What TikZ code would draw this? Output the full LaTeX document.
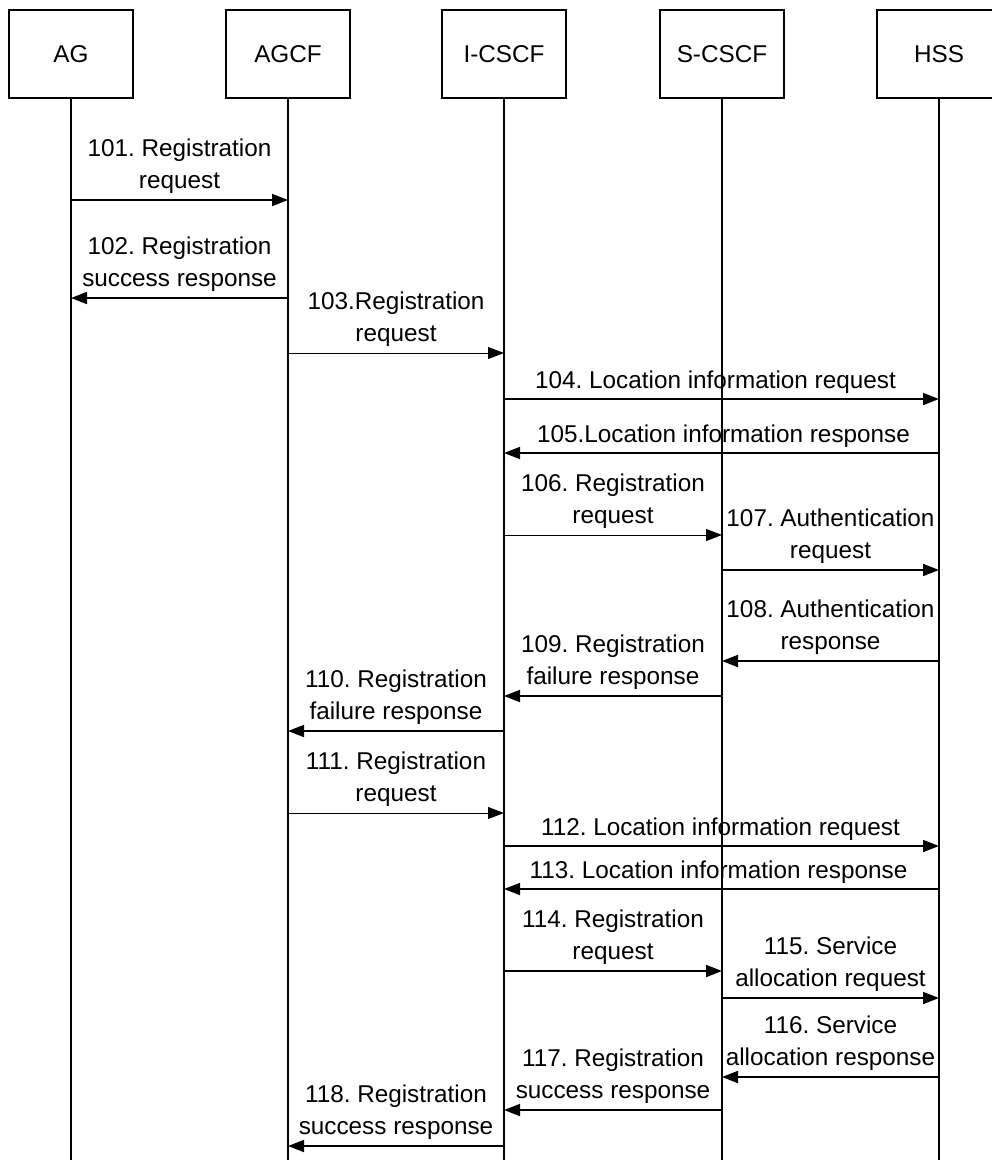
\documentclass[tikz,border=0pt]{standalone}
\usepackage{fontspec}
\setmainfont{Liberation Sans}
\usetikzlibrary{arrows.meta}
\frenchspacing
\tikzset{
  actor/.style={draw, line width=1.6pt, minimum width=124pt, minimum height=88pt, inner sep=0pt, font=\fontsize{24.3}{29}\selectfont},
  life/.style={line width=1.5pt},
  msgthick/.style={line width=1.7pt, -{Triangle[length=16pt,width=12pt]}},
  msgthin/.style={line width=1.0pt, -{Triangle[length=16pt,width=12pt]}},
  lbl/.style={anchor=base, inner sep=0pt, font=\fontsize{24.3}{29}\selectfont}
}
\newcommand{\xAG}{71}
\newcommand{\xAGCF}{288}
\newcommand{\xIC}{504}
\newcommand{\xSC}{722}
\newcommand{\xHSS}{939}
% two-line message: name, from x, to x, y, line1, line2, style
\newcommand{\msgtwo}[7]{%
  \coordinate (#1s) at (#2,-#4);
  \coordinate (#1e) at (#3,-#4);
  \draw[#7] (#1s) -- (#1e);
  \node[lbl] (#1a) at ({(#2+#3)/2},{-#4+44}) {#5};
  \node[lbl] (#1b) at ({(#2+#3)/2},{-#4+12}) {#6};
}
% one-line message: name, from x, to x, y, text, style, x offset of label
\newcommand{\msgone}[7]{%
  \coordinate (#1s) at (#2,-#4);
  \coordinate (#1e) at (#3,-#4);
  \draw[#6] (#1s) -- (#1e);
  \node[lbl] (#1a) at ({(#2+#3)/2+#7},{-#4+11}) {#5};
}
\begin{document}
\begin{tikzpicture}[x=1pt,y=1pt]
\clip (0,0) rectangle (992,-1160);
\fill[white] (0,0) rectangle (992,-1160);
% actors
\node[actor] (ag)    at (\xAG,-54)   {AG};
\node[actor] (agcf)  at (\xAGCF,-54) {AGCF};
\node[actor] (icscf) at (\xIC,-54)   {I-CSCF};
\node[actor] (scscf) at (\xSC,-54)   {S-CSCF};
\node[actor] (hss)   at (\xHSS,-54)  {HSS};
% lifeline ends
\coordinate (agend)    at (\xAG,-1162);
\coordinate (agcfend)  at (\xAGCF,-1162);
\coordinate (icscfend) at (\xIC,-1162);
\coordinate (scscfend) at (\xSC,-1162);
\coordinate (hssend)   at (\xHSS,-1162);
\draw[life] (ag) -- (agend);
\draw[life] (agcf) -- (agcfend);
\draw[life] (icscf) -- (icscfend);
\draw[life] (scscf) -- (scscfend);
\draw[life] (hss) -- (hssend);
% messages
\msgtwo{m101}{\xAG}{\xAGCF}{200}{101. Registration}{request}{msgthick}
\msgtwo{m102}{\xAGCF}{\xAG}{298}{102. Registration}{success response}{msgthick}
\msgtwo{m103}{\xAGCF}{\xIC}{353}{103.Registration}{request}{msgthin}
\msgone{m104}{\xIC}{\xHSS}{399}{104. Location information request}{msgthick}{-6}
\msgone{m105}{\xHSS}{\xIC}{453}{105.Location information response}{msgthick}{2}
\msgtwo{m106}{\xIC}{\xSC}{535}{106. Registration}{request}{msgthin}
\msgtwo{m107}{\xSC}{\xHSS}{570}{107. Authentication}{request}{msgthick}
\msgtwo{m108}{\xHSS}{\xSC}{661}{108. Authentication}{response}{msgthick}
\msgtwo{m109}{\xSC}{\xIC}{696}{109. Registration}{failure response}{msgthick}
\msgtwo{m110}{\xIC}{\xAGCF}{731}{110. Registration}{failure response}{msgthick}
\msgtwo{m111}{\xAGCF}{\xIC}{813}{111. Registration}{request}{msgthin}
\msgone{m112}{\xIC}{\xHSS}{846}{112. Location information request}{msgthick}{-1}
\msgone{m113}{\xHSS}{\xIC}{889}{113. Location information response}{msgthick}{-3}
\msgtwo{m114}{\xIC}{\xSC}{971}{114. Registration}{request}{msgthick}
\msgtwo{m115}{\xSC}{\xHSS}{998}{115. Service}{allocation request}{msgthick}
\msgtwo{m116}{\xHSS}{\xSC}{1077}{116. Service}{allocation response}{msgthick}
\msgtwo{m117}{\xSC}{\xIC}{1110}{117. Registration}{success response}{msgthick}
\msgtwo{m118}{\xIC}{\xAGCF}{1146}{118. Registration}{success response}{msgthick}
\end{tikzpicture}
\end{document}
